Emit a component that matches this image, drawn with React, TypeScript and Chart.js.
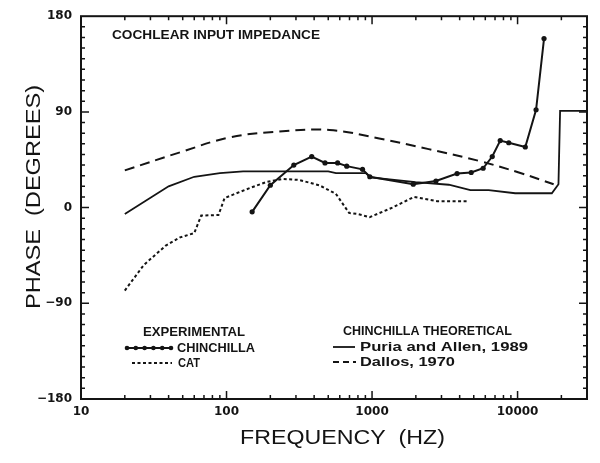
import React, { useEffect, useRef } from 'react';
import { Chart, registerables } from 'chart.js';

Chart.register(...registerables);

// ---- data (frequency in Hz, phase in degrees) ----
const chinchillaFreq = [150, 200, 290, 385, 475, 580, 670, 860, 965, 1920, 2750, 3840, 4800, 5800, 6700, 7600, 8700, 11300, 13400, 15200];
const chinchillaPhase = [-4, 21, 40, 48, 42, 42, 39, 36, 29, 22, 25, 32, 33, 37, 48, 63, 61, 57, 92, 159];

const catFreq = [20, 27, 38, 48, 60, 67, 88, 97, 136, 187, 243, 316, 434, 564, 695, 793, 963, 1380, 1940, 2800, 4600];
const catPhase = [-78, -54, -36, -28, -24, -7.5, -7, 9, 17, 24, 27, 26, 21, 13, -5, -6, -9, 0, 10, 6, 6];

const puriaFreq = [20, 40, 60, 90, 130, 500, 565, 905, 980, 1990, 3370, 4740, 6330, 9630, 17200, 19100, 19600, 30000];
const puriaPhase = [-6, 20, 29, 32.5, 34, 34, 32.5, 32.5, 28.5, 24, 21.5, 16.5, 16.5, 13.5, 13.5, 22, 91, 91];

const dallosFreq = [20, 48, 105, 230, 510, 1120, 2450, 5400, 10200, 17700];
const dallosPhase = [35, 52, 66, 71.5, 73, 65, 55, 44, 33, 22];

const xTickValues = [10, 100, 1000, 10000];
const yTickValues = [-180, -90, 0, 90, 180];

const X_MIN = 10;
const X_MAX = 30000;
const Y_MIN = -180;
const Y_MAX = 180;

const INK = '#141414';
const FONT = "'Liberation Sans', Arial, Helvetica, sans-serif";
const TICK_FONT = "'DejaVu Sans', 'Liberation Sans', sans-serif";

const toPoints = (xs: number[], ys: number[]) => xs.map((x, i) => ({ x, y: ys[i] }));

function fitText(
  ctx: CanvasRenderingContext2D,
  text: string,
  x: number,
  y: number,
  size: number,
  width: number,
  weight = 'normal',
  align: 'left' | 'center' = 'left',
  rotate = 0
) {
  ctx.save();
  ctx.font = `${weight} ${size}px ${FONT}`;
  const w = ctx.measureText(text).width;
  ctx.translate(x, y);
  if (rotate) ctx.rotate(rotate);
  ctx.scale(width / w, 1);
  ctx.textBaseline = 'middle';
  ctx.textAlign = 'left';
  ctx.fillStyle = INK;
  ctx.fillText(text, align === 'center' ? -w / 2 : 0, 0);
  ctx.restore();
}

const decorPlugin = {
  id: 'decor',
  afterDraw(chart: any) {
    const ctx: CanvasRenderingContext2D = chart.ctx;
    const { left, right, top, bottom } = chart.chartArea;
    const xs = chart.scales.x;
    const ys = chart.scales.y;
    ctx.save();
    ctx.strokeStyle = INK;
    ctx.fillStyle = INK;

    // frame
    ctx.lineWidth = 2;
    ctx.strokeRect(left, top, right - left, bottom - top);

    // inward x ticks (bottom and top)
    ctx.lineWidth = 1.5;
    for (let e = 1; e <= 4; e++) {
      for (let m = 1; m <= 9; m++) {
        const v = m * Math.pow(10, e);
        if (v <= X_MIN || v >= X_MAX) continue;
        const px = xs.getPixelForValue(v);
        const len = m === 1 ? 8 : 4;
        ctx.beginPath();
        ctx.moveTo(px, bottom);
        ctx.lineTo(px, bottom - len);
        ctx.moveTo(px, top);
        ctx.lineTo(px, top + len);
        ctx.stroke();
      }
    }
    // inward y ticks (left and right)
    for (let v = Y_MIN + 10; v < Y_MAX; v += 10) {
      const py = ys.getPixelForValue(v);
      const len = v % 90 === 0 ? 8 : 4;
      ctx.beginPath();
      ctx.moveTo(left, py);
      ctx.lineTo(left + len, py);
      ctx.moveTo(right, py);
      ctx.lineTo(right - len, py);
      ctx.stroke();
    }

    // title inside plot
    fitText(ctx, 'COCHLEAR INPUT IMPEDANCE', 112, 35, 13, 208, 'bold');

    // axis titles
    fitText(ctx, 'FREQUENCY  (HZ)', 342.5, 438, 21, 205, 'normal', 'center');
    fitText(ctx, 'PHASE  (DEGREES)', 34, 197, 20, 224, 'normal', 'center', -Math.PI / 2);

    // legend: experimental
    fitText(ctx, 'EXPERIMENTAL', 143, 332, 13, 102, 'bold');
    fitText(ctx, 'CHINCHILLA', 177, 348, 13, 78, 'bold');
    fitText(ctx, 'CAT', 178, 363, 13, 22, 'bold');
    // legend: theoretical
    fitText(ctx, 'CHINCHILLA THEORETICAL', 343, 331, 13, 169, 'bold');
    fitText(ctx, 'Puria and Allen, 1989', 360, 347, 13, 168, 'bold');
    fitText(ctx, 'Dallos, 1970', 360, 362, 13, 95, 'bold');

    // legend samples
    ctx.lineWidth = 2;
    ctx.setLineDash([]);
    ctx.beginPath();
    ctx.moveTo(125, 348);
    ctx.lineTo(173, 348);
    ctx.stroke();
    for (let i = 0; i < 6; i++) {
      ctx.beginPath();
      ctx.arc(127 + i * 8.8, 348, 2.3, 0, Math.PI * 2);
      ctx.fill();
    }
    ctx.setLineDash([3, 2.5]);
    ctx.beginPath();
    ctx.moveTo(132, 363);
    ctx.lineTo(172, 363);
    ctx.stroke();
    ctx.setLineDash([]);
    ctx.lineWidth = 1.8;
    ctx.beginPath();
    ctx.moveTo(333, 347);
    ctx.lineTo(355, 347);
    ctx.stroke();
    ctx.setLineDash([6, 4]);
    ctx.lineWidth = 2;
    ctx.beginPath();
    ctx.moveTo(333, 362);
    ctx.lineTo(356, 362);
    ctx.stroke();
    ctx.restore();
  },
};

export default function App() {
  const ref = useRef<HTMLCanvasElement | null>(null);

  useEffect(() => {
    document.body.style.margin = '0';
    const canvas = ref.current;
    if (!canvas) return;
    const chart = new Chart(canvas, {
      type: 'line',
      data: {
        datasets: [
          {
            label: 'CHINCHILLA',
            data: toPoints(chinchillaFreq, chinchillaPhase),
            borderColor: INK,
            backgroundColor: INK,
            borderWidth: 2,
            pointRadius: 2.6,
            pointBorderWidth: 0,
            pointBackgroundColor: INK,
            tension: 0,
          },
          {
            label: 'CAT',
            data: toPoints(catFreq, catPhase),
            borderColor: INK,
            borderWidth: 2,
            borderDash: [3, 2.5],
            pointRadius: 0,
            tension: 0,
          },
          {
            label: 'Puria and Allen, 1989',
            data: toPoints(puriaFreq, puriaPhase),
            borderColor: INK,
            borderWidth: 1.8,
            pointRadius: 0,
            tension: 0,
          },
          {
            label: 'Dallos, 1970',
            data: toPoints(dallosFreq, dallosPhase),
            borderColor: INK,
            borderWidth: 2,
            borderDash: [10, 6],
            pointRadius: 0,
            tension: 0.4,
          },
        ],
      },
      options: {
        responsive: false,
        animation: false,
        devicePixelRatio: 1,
        layout: { padding: { left: 0, top: 15, right: 13, bottom: 0 } },
        plugins: {
          legend: { display: false },
          tooltip: { enabled: false },
        },
        scales: {
          x: {
            type: 'logarithmic',
            min: X_MIN,
            max: X_MAX,
            grid: { display: false, drawTicks: false },
            border: { display: false },
            afterBuildTicks: (scale: any) => {
              scale.ticks = xTickValues.map((v) => ({ value: v }));
            },
            afterFit: (scale: any) => {
              scale.height = 64;
            },
            ticks: {
              autoSkip: false,
              maxRotation: 0,
              padding: 6,
              color: INK,
              font: { family: TICK_FONT, size: 12, weight: 'bold' },
              callback: (v: any) => String(v),
            },
          },
          y: {
            type: 'linear',
            min: Y_MIN,
            max: Y_MAX,
            grid: { display: false, drawTicks: false },
            border: { display: false },
            afterBuildTicks: (scale: any) => {
              scale.ticks = yTickValues.map((v) => ({ value: v }));
            },
            afterFit: (scale: any) => {
              scale.width = 81;
            },
            ticks: {
              padding: 9,
              color: INK,
              font: { family: TICK_FONT, size: 12, weight: 'bold' },
              callback: (v: any) => (Number(v) < 0 ? '\u2212' + Math.abs(Number(v)) : String(v)),
            },
          },
        },
      },
      plugins: [decorPlugin],
    } as any);
    return () => chart.destroy();
  }, []);

  return (
    <div style={{ width: 600, height: 463, background: '#fff' }}>
      <canvas ref={ref} width={600} height={463} style={{ display: 'block' }} />
    </div>
  );
}
